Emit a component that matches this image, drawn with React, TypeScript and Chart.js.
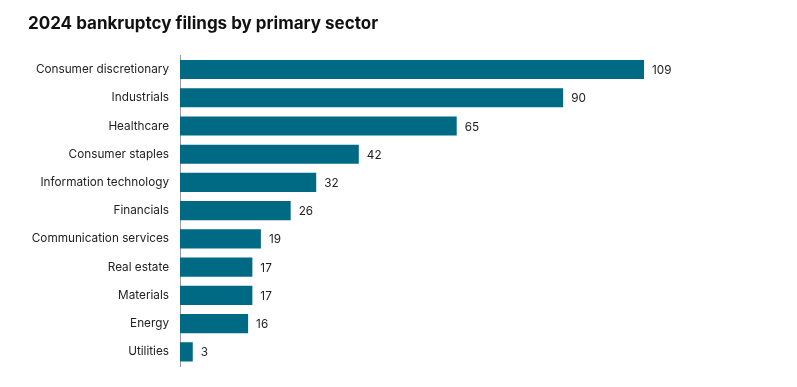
import React, { useEffect, useRef } from "react";
import { Chart, registerables } from "chart.js";

Chart.register(...registerables);

const categories = [
  "Consumer discretionary",
  "Industrials",
  "Healthcare",
  "Consumer staples",
  "Information technology",
  "Financials",
  "Communication services",
  "Real estate",
  "Materials",
  "Energy",
  "Utilities",
];
const filings = [109, 90, 65, 42, 32, 26, 19, 17, 17, 16, 3];
const titleText = "2024 bankruptcy filings by primary sector";

const FONT = "Inter, 'Noto Sans', sans-serif";

const valueLabels = {
  id: "valueLabels",
  afterDatasetsDraw(chart: any) {
    const ctx = chart.ctx;
    const meta = chart.getDatasetMeta(0);
    const data = chart.data.datasets[0].data as number[];
    ctx.save();
    ctx.font = `11.75px ${FONT}`;
    ctx.fillStyle = "#222222";
    ctx.textAlign = "left";
    ctx.textBaseline = "middle";
    meta.data.forEach((bar: any, i: number) => {
      ctx.fillText(String(data[i]), bar.x + 8, bar.y + 1);
    });
    ctx.restore();
  },
};

export default function App() {
  const ref = useRef<HTMLCanvasElement | null>(null);
  useEffect(() => {
    if (!ref.current) return;
    const chart = new Chart(ref.current, {
      type: "bar",
      data: {
        labels: categories,
        datasets: [
          {
            data: filings,
            backgroundColor: "#006A84",
            borderWidth: 0,
            barPercentage: 0.68,
            categoryPercentage: 1,
          },
        ],
      },
      options: {
        indexAxis: "y",
        animation: false,
        responsive: false,
        maintainAspectRatio: false,
        layout: { padding: { left: 28, right: 21, top: 0, bottom: 21 } },
        plugins: {
          legend: { display: false },
          tooltip: { enabled: false },
          title: {
            display: true,
            text: titleText,
            align: "start",
            color: "#111111",
            font: { family: FONT, size: 17, weight: "bold" },
            padding: { top: 14, bottom: 21 },
          },
        },
        scales: {
          x: { display: false, min: 0, max: 140 },
          y: {
            afterFit(scale: any) {
              scale.width = 152;
            },
            grid: { display: false, drawTicks: false },
            border: { display: true, color: "#9a9a9a", width: 1 },
            ticks: {
              color: "#222222",
              font: { family: FONT, size: 11.75 },
              padding: 11,
            },
          },
        },
      },
      plugins: [valueLabels],
    });
    return () => chart.destroy();
  }, []);
  return (
    <div style={{ position: "fixed", left: 0, top: 0, width: 797, height: 387, background: "#fff" }}>
      <canvas ref={ref} width={797} height={387} />
    </div>
  );
}
